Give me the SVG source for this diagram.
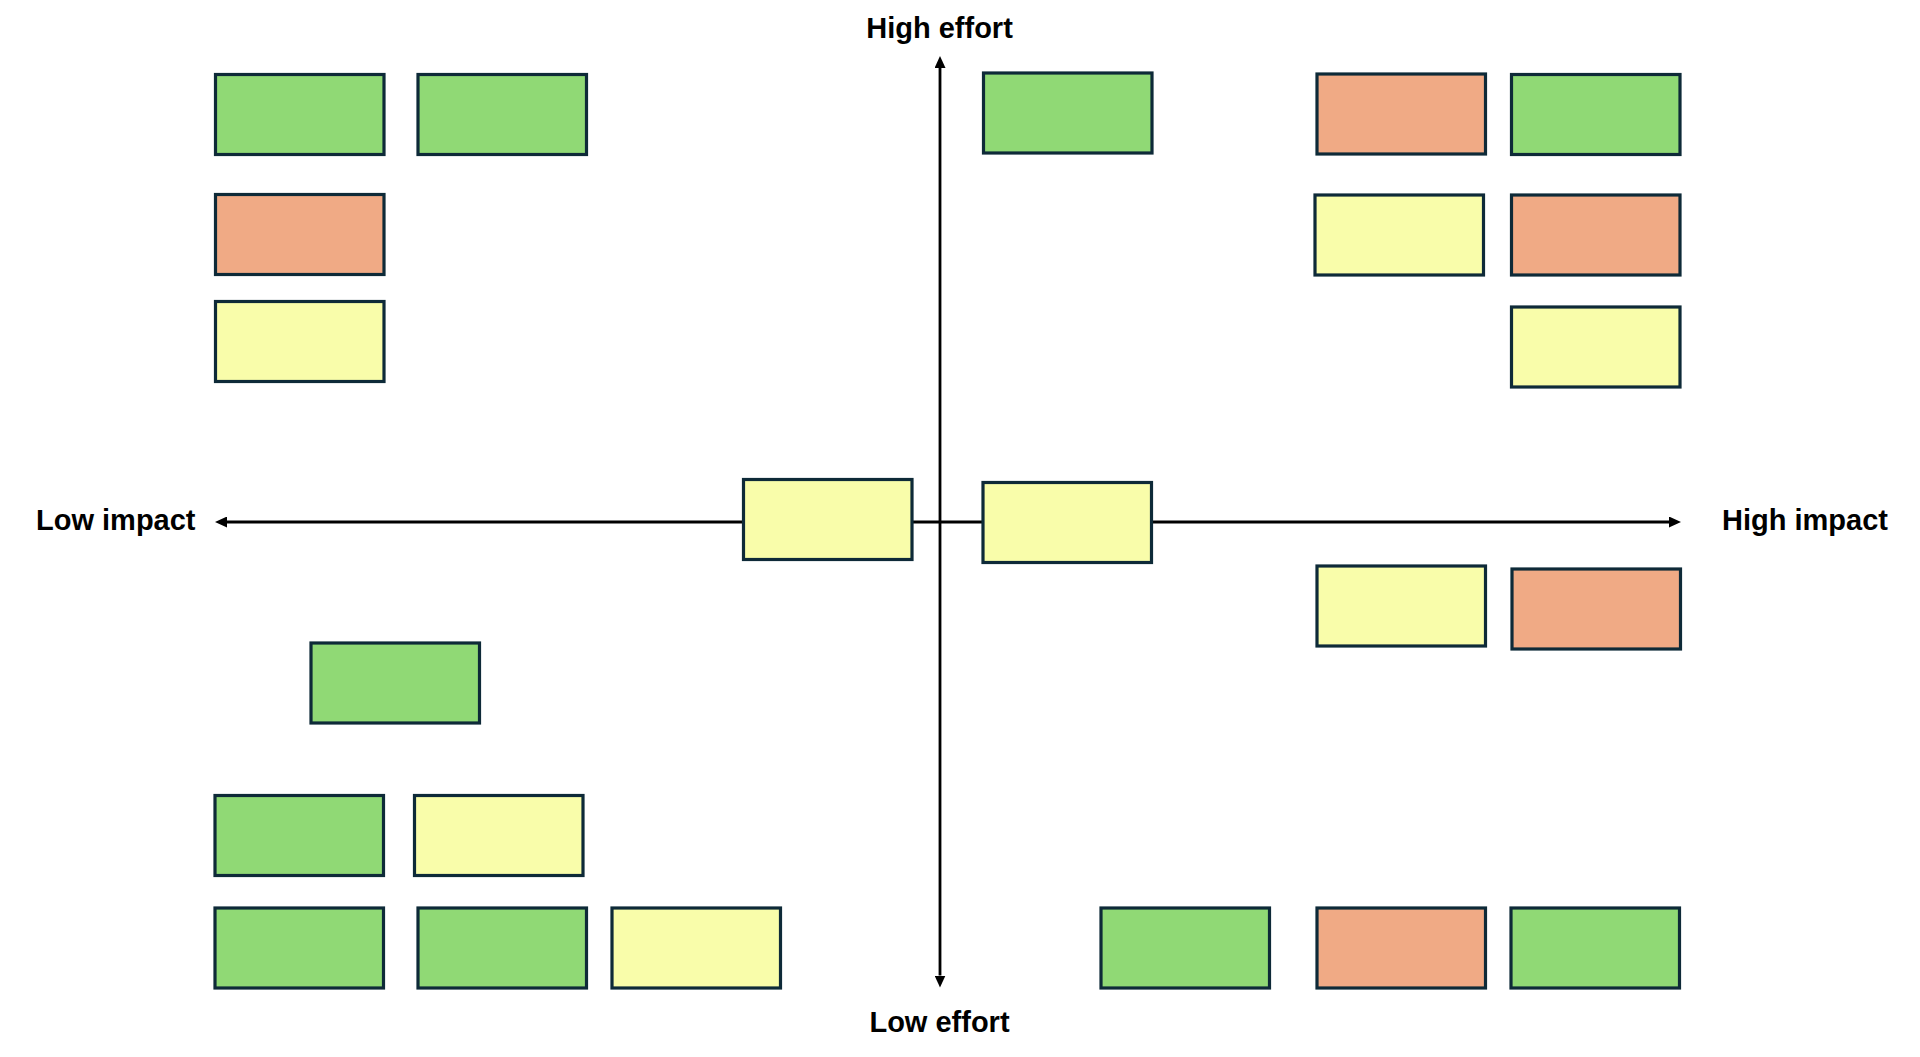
<svg xmlns="http://www.w3.org/2000/svg" width="1920" height="1057" viewBox="0 0 1920 1057">
<style>
.box{stroke:#0e2a38;stroke-width:3.2}
.g{fill:#90d975}
.o{fill:#f0aa85}
.y{fill:#f9fdaa}
.axis{stroke:#000;stroke-width:2.8;fill:none}
.lbl{font-family:"Liberation Sans",Arial,sans-serif;font-weight:bold;font-size:29px;fill:#000}
</style>
<defs>
<marker id="ah" viewBox="0 0 12 11" refX="0" refY="5.5" markerWidth="12" markerHeight="11" markerUnits="userSpaceOnUse" orient="auto">
<path d="M0,0 L12,5.5 L0,11 z" fill="#000"/>
</marker>
</defs>
<rect width="1920" height="1057" fill="#fff"/>
<g id="connectors">
<line class="axis" x1="940" y1="522" x2="227" y2="522" marker-end="url(#ah)"/>
<line class="axis" x1="940" y1="522" x2="1669" y2="522" marker-end="url(#ah)"/>
<line class="axis" x1="940" y1="522" x2="940" y2="68" marker-end="url(#ah)"/>
<line class="axis" x1="940" y1="522" x2="940" y2="975.5" marker-end="url(#ah)"/>
</g>
<g id="labels">
<text id="high-effort" class="lbl" x="939.5" y="37.5" text-anchor="middle">High effort</text>
<text id="low-effort" class="lbl" x="939.5" y="1032" text-anchor="middle">Low effort</text>
<text id="low-impact" class="lbl" x="36" y="529.5">Low impact</text>
<text id="high-impact" class="lbl" x="1722" y="529.5">High impact</text>
</g>
<g id="n1"><rect class="box g" x="215.5" y="74.5" width="168.5" height="80"/></g>
<g id="n2"><rect class="box g" x="418" y="74.5" width="168.5" height="80"/></g>
<g id="n3"><rect class="box o" x="215.5" y="194.5" width="168.5" height="80"/></g>
<g id="n4"><rect class="box y" x="215.5" y="301.5" width="168.5" height="80"/></g>
<g id="n5"><rect class="box g" x="983.5" y="73" width="168.5" height="80"/></g>
<g id="n6"><rect class="box o" x="1317" y="74" width="168.5" height="80"/></g>
<g id="n7"><rect class="box g" x="1511.5" y="74.5" width="168.5" height="80"/></g>
<g id="n8"><rect class="box y" x="1315" y="195" width="168.5" height="80"/></g>
<g id="n9"><rect class="box o" x="1511.5" y="195" width="168.5" height="80"/></g>
<g id="n10"><rect class="box y" x="1511.5" y="307" width="168.5" height="80"/></g>
<g id="n11"><rect class="box y" x="743.5" y="479.5" width="168.5" height="80"/></g>
<g id="n12"><rect class="box y" x="983" y="482.5" width="168.5" height="80"/></g>
<g id="n13"><rect class="box y" x="1317" y="566" width="168.5" height="80"/></g>
<g id="n14"><rect class="box o" x="1512" y="569" width="168.5" height="80"/></g>
<g id="n15"><rect class="box g" x="311" y="643" width="168.5" height="80"/></g>
<g id="n16"><rect class="box g" x="215" y="795.5" width="168.5" height="80"/></g>
<g id="n17"><rect class="box y" x="414.5" y="795.5" width="168.5" height="80"/></g>
<g id="n18"><rect class="box g" x="215" y="908" width="168.5" height="80"/></g>
<g id="n19"><rect class="box g" x="418" y="908" width="168.5" height="80"/></g>
<g id="n20"><rect class="box y" x="612" y="908" width="168.5" height="80"/></g>
<g id="n21"><rect class="box g" x="1101" y="908" width="168.5" height="80"/></g>
<g id="n22"><rect class="box o" x="1317" y="908" width="168.5" height="80"/></g>
<g id="n23"><rect class="box g" x="1511" y="908" width="168.5" height="80"/></g>
</svg>
